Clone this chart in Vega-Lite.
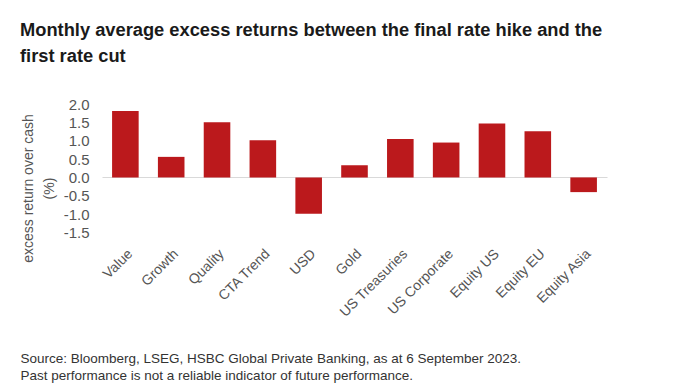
{
  "$schema": "https://vega.github.io/schema/vega-lite/v6.json",
  "autosize": {"type": "none"},
  "width": 505,
  "height": 128.5,
  "padding": {"left": 102, "top": 104, "right": 89, "bottom": 156.5},
  "background": "white",
  "title": {
    "text": ["Monthly average excess returns between the final rate hike and the", "first rate cut"],
    "anchor": "start",
    "frame": "group",
    "dx": -82,
    "offset": 31,
    "font": "Liberation Sans",
    "fontSize": 18.3,
    "fontWeight": "bold",
    "color": "#1a1a1a",
    "lineHeight": 26
  },
  "data": {
    "values": [
      {"asset": "Value", "ret": 1.81},
      {"asset": "Growth", "ret": 0.56},
      {"asset": "Quality", "ret": 1.5},
      {"asset": "CTA Trend", "ret": 1.01},
      {"asset": "USD", "ret": -0.99},
      {"asset": "Gold", "ret": 0.33},
      {"asset": "US Treasuries", "ret": 1.05},
      {"asset": "US Corporate", "ret": 0.95},
      {"asset": "Equity US", "ret": 1.47},
      {"asset": "Equity EU", "ret": 1.26},
      {"asset": "Equity Asia", "ret": -0.4}
    ]
  },
  "config": {
    "view": {"stroke": null},
    "font": "Liberation Sans",
    "axis": {"labelOverlap": false}
  },
  "mark": {"type": "bar", "color": "#bb191c"},
  "encoding": {
    "x": {
      "field": "asset",
      "type": "nominal",
      "sort": null,
      "scale": {"paddingInner": 0.42, "paddingOuter": 0.22},
      "axis": {
        "labelAngle": -45,
        "labelFontSize": 14,
        "labelColor": "#555555",
        "labelPadding": 14,
        "labelOverlap": false,
        "ticks": false,
        "domain": false,
        "title": ["Source: Bloomberg, LSEG, HSBC Global Private Banking, as at 6 September 2023.", "Past performance is not a reliable indicator of future performance."],
        "titleFontSize": 13.5,
        "titleFontWeight": "normal",
        "titleColor": "#333333",
        "titleAnchor": "start",
        "titleAlign": "left",
        "titleBaseline": "alphabetic",
        "titleX": -82,
        "titleY": 129.5,
        "titleLineHeight": 17
      }
    },
    "y": {
      "field": "ret",
      "type": "quantitative",
      "scale": {"domain": [-1.5, 2.0], "nice": false, "zero": false},
      "axis": {
        "values": [-1.5, -1, -0.5, 0, 0.5, 1, 1.5, 2],
        "labelExpr": "datum.value < 0 ? '-' + format(-datum.value, '.1f') : format(datum.value, '.1f')",
        "labelFontSize": 15,
        "labelColor": "#555555",
        "labelPadding": 13,
        "labelOverlap": false,
        "labelFlush": false,
        "labelBound": false,
        "ticks": false,
        "domain": false,
        "grid": true,
        "gridColor": "#d9d9d9",
        "gridWidth": 1,
        "gridOpacity": {"condition": {"test": "datum.value === 0", "value": 1}, "value": 0},
        "title": ["excess return over cash", "(%)"],
        "titleFontSize": 14,
        "titleFontWeight": "normal",
        "titleColor": "#555555",
        "titleAngle": -90,
        "titleAlign": "center",
        "titleBaseline": "alphabetic",
        "titleX": -70,
        "titleY": 84,
        "titleLineHeight": 21
      }
    }
  }
}
